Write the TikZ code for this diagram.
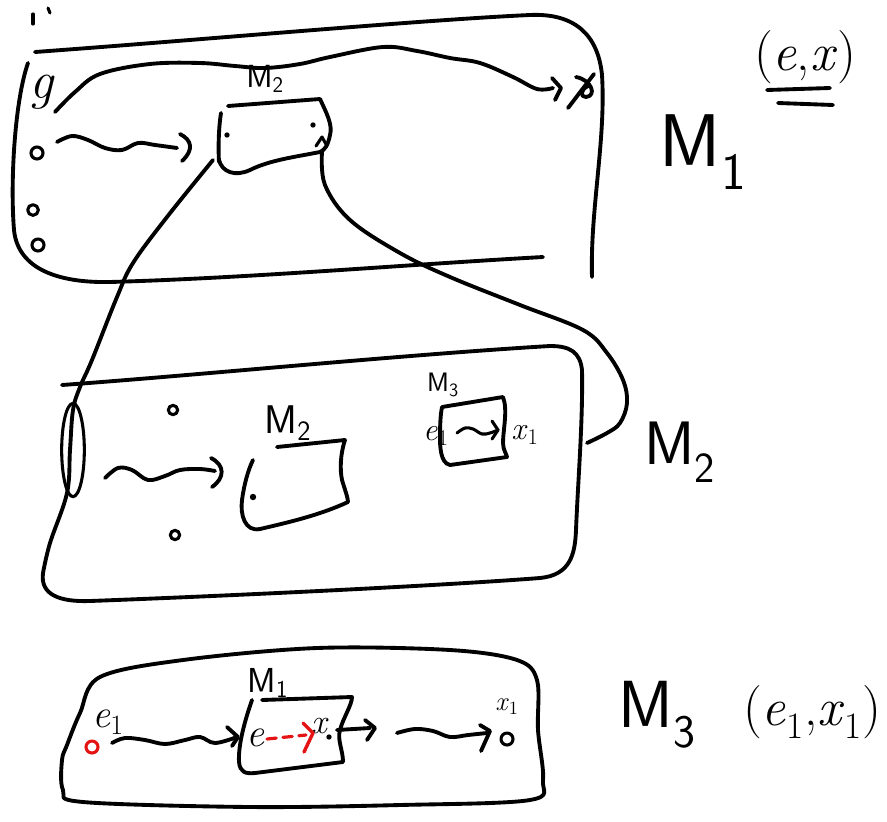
\documentclass[tikz,border=0pt]{standalone}
\usepackage{fontspec}
\usetikzlibrary{arrows.meta}
\definecolor{inkred}{RGB}{228,20,20}
\newcommand{\Mx}[1]{\textsf{M}\textsubscript{\textsf{#1}}}
\newcommand{\fs}[1]{\fontsize{#1}{#1}\selectfont}
\begin{document}
\begin{tikzpicture}[x=0.75pt,y=-0.75pt, line cap=round, line join=round,
  ink/.style={line width=2.9pt, black},
  thinink/.style={line width=2.3pt, black},
  lbl/.style={inner sep=0pt, outer sep=0pt}]
\useasboundingbox (0,0) rectangle (887,821);

% ---------------- panel 1 ----------------
\draw[thinink] (33,14) -- (33,24);
\draw[thinink] (48,8) -- (50,13);
\draw[ink] (35,52) .. controls (200,40) and (420,20) .. (530,15)
  .. controls (575,13) and (598,35) .. (602,75)
  .. controls (606,140) and (590,210) .. (592,277);
\draw[ink] (28,63) .. controls (15,100) and (10,180) .. (14,230)
  .. controls (18,270) and (60,283) .. (110,282)
  .. controls (250,278) and (400,265) .. (543,257);
\node[lbl, font=\fs{40}] (g) at (42,92) {\textit{g}};
\draw[ink] plot[smooth, tension=0.6] coordinates {(55,112) (75,92) (100,74) (150,64) (200,63) (235,66) (265,68) (300,64) (330,57) (383,47) (417,51) (450,58) (480,63) (513,77) (537,89) (553,88)};
\draw[ink] (552,78) -- (561,88) -- (555,100);
\draw[ink] (568,108) -- (594,74);
\draw[ink] (576,77) .. controls (592,80) and (597,96) .. (586,97) .. controls (580,97) and (580,90) .. (588,86);
\draw[thinink] (37,153) circle[radius=4.5pt];
\draw[thinink] (33,210) circle[radius=4pt];
\draw[thinink] (38,245) circle[radius=4.5pt];
\draw[ink] plot[smooth, tension=0.6] coordinates {(57,142) (72,136) (88,140) (105,148) (122,150) (138,143) (155,145) (177,148)};
\draw[ink] (180,134) .. controls (192,140) and (194,150) .. (182,161);
\node[lbl, font=\fs{24}] (m2a) at (265,79) {\Mx{2}};
\draw[ink] (228,106) -- (320,99) .. controls (326,112) and (333,125) .. (330,135)
  .. controls (328,145) and (325,150) .. (320,152)
  .. controls (295,157) and (270,160) .. (250,170)
  .. controls (235,177) and (222,172) .. (219,160);
\draw[ink] (221,113) .. controls (219,125) and (218,145) .. (219,162);
\fill (227,135) circle[radius=2pt];
\fill (313,125) circle[radius=2pt];
\draw[thinink] (316,146) -- (322,137) -- (327,146);
% long connectors
\draw[ink] plot[smooth, tension=0.6] coordinates {(322,152) (325,185) (350,220) (400,253) (450,277) (520,305) (583,330) (607,353) (623,380) (627,403) (620,423) (607,433) (587,443)};
\draw[ink] plot[smooth, tension=0.6] coordinates {(213,160) (167,217) (133,263) (117,297) (92,360) (80,387) (73,410) (70,450) (67,493) (50,543) (43,573)};

% ---------------- panel 2 ----------------
\draw[ink] (43,573) .. controls (40,595) and (60,602) .. (90,601)
  .. controls (250,595) and (450,585) .. (540,578)
  .. controls (570,575) and (575,555) .. (576,530)
  .. controls (578,480) and (583,420) .. (582,370)
  .. controls (580,352) and (570,346) .. (550,346)
  .. controls (400,355) and (200,375) .. (62,385);
\draw[thinink] (73,450) ellipse[x radius=8.5pt, y radius=35pt];
\draw[thinink] (173,410) circle[radius=3.5pt];
\draw[thinink] (175,535) circle[radius=3.5pt];
\draw[ink] plot[smooth, tension=0.6] coordinates {(105,478) (118,468) (132,470) (148,480) (165,476) (180,470) (200,469) (215,471)};
\draw[ink] (211,458) .. controls (225,465) and (225,478) .. (212,487);
\node[lbl, font=\fs{30}] (m2b) at (288,423) {\Mx{2}};
\draw[ink] (277,447) -- (345,440) .. controls (340,455) and (340,470) .. (342,480)
  .. controls (345,490) and (348,498) .. (348,502)
  .. controls (320,515) and (290,522) .. (260,529)
  .. controls (245,532) and (240,515) .. (242,500)
  .. controls (244,485) and (248,470) .. (253,460);
\fill (253,497) circle[radius=2.4pt];
\node[lbl, font=\fs{20}] (m3a) at (443,385) {\Mx{3}};
\draw[ink] (442,407) -- (503,397) .. controls (508,410) and (503,430) .. (503,443)
  .. controls (503,450) and (507,455) .. (507,457) -- (450,465)
  .. controls (440,463) and (440,445) .. (440,437)
  .. controls (440,420) and (441,412) .. (442,407);
\node[lbl, font=\fs{24}] (e1a) at (436,436) {\textit{e}\textsubscript{1}};
\node[lbl, font=\fs{24}] (x1a) at (525,435) {\textit{x}\textsubscript{1}};
\draw[thinink] plot[smooth, tension=0.6] coordinates {(457,433) (465,428) (473,429) (482,434) (490,433) (498,430)};
\draw[thinink] (492,421) -- (498,430) -- (492,439);

% ---------------- panel 3 ----------------
\draw[ink] plot[smooth cycle, tension=0.55] coordinates {(100,677) (183,660) (317,648) (450,650) (517,660) (537,680) (538,730) (543,780) (530,800) (400,805) (250,807) (83,802) (63,790) (62,760) (67,745) (80,713)};
\draw[line width=2.3pt, draw=inkred] (92,747) circle[radius=4.5pt];
\node[lbl, font=\fs{30}] (e1b) at (108,722) {\textit{e}\textsubscript{1}};
\draw[ink] plot[smooth, tension=0.6] coordinates {(112,743) (125,738) (145,740) (165,744) (185,740) (200,737) (215,743) (237,737)};
\draw[ink] (227,727) -- (238,737) -- (232,746);
\node[lbl, font=\fs{26}] (m1c) at (268,683) {\Mx{1}};
\draw[ink] (252,700) .. controls (245,720) and (238,745) .. (239,762)
  .. controls (240,772) and (245,774) .. (255,773) -- (343,762)
  .. controls (343,750) and (337,740) .. (340,730)
  .. controls (343,718) and (352,705) .. (352,697) -- (262,700);
\node[lbl, font=\fs{30}] (ec) at (256,738) {\textit{e}};
\node[lbl, font=\fs{26}] (xc) at (320,726) {\textit{x}};
\fill (329,737) circle[radius=2pt];
\draw[inkred, line width=2.4pt, dash pattern=on 7pt off 5pt] (267,739) -- (306,735);
\draw[inkred, line width=2.6pt] (303,723) -- (313,733) -- (304,752);
\draw[ink] (337,730) -- (370,728);
\draw[ink] (365,720) -- (375,728) -- (367,740);
\draw[ink] plot[smooth, tension=0.6] coordinates {(397,733) (415,729) (433,731) (450,737) (468,735) (487,733)};
\draw[ink] (480,725) -- (490,731) -- (481,751);
\node[lbl, font=\fs{20}] (x1c) at (507,707) {\textit{x}\textsubscript{1}};
\draw[thinink] (507,739) circle[radius=4.5pt];

% ---------------- right labels ----------------
\node[lbl, font=\fs{40}] (ex) at (805,57) {(\textit{e},\textit{x})};
\draw[ink] (767,90) -- (830,88);
\draw[ink] (778,103) -- (833,105);
\node[lbl, font=\fs{56}] (M1) at (703,152) {\Mx{1}};
\node[lbl, font=\fs{46}] (M2) at (680,452) {\Mx{2}};
\node[lbl, font=\fs{50}] (M3) at (657,715) {\Mx{3}};
\node[lbl, font=\fs{40}] (e1x1) at (812,712) {(\textit{e}\textsubscript{1},\textit{x}\textsubscript{1})};
\end{tikzpicture}
\end{document}
